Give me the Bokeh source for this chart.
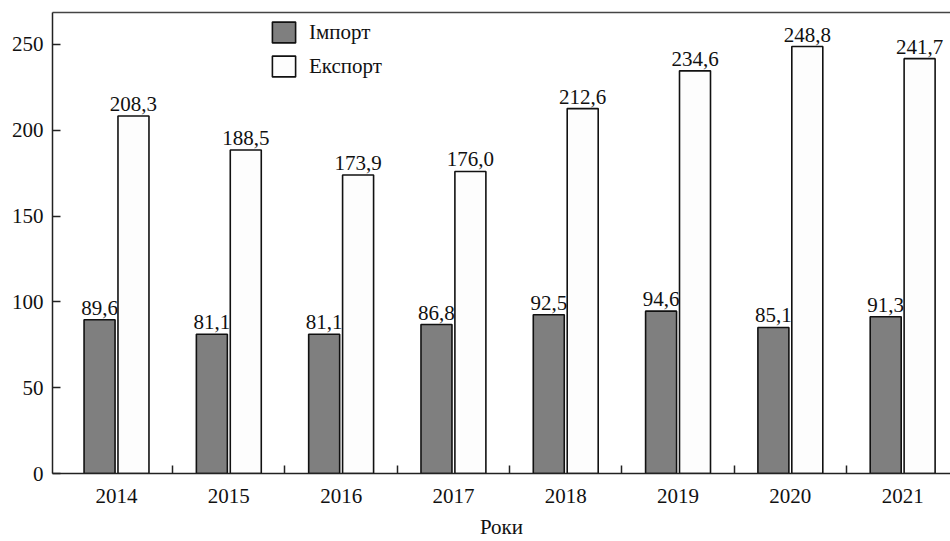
import numpy as np
from bokeh.plotting import figure
from bokeh.models import (ColumnDataSource, FixedTicker, LinearAxis, Legend,
                          LegendItem, Range1d)
from bokeh.embed import file_html
from bokeh.resources import INLINE
from bokeh.core.properties import value

years = ["2014", "2015", "2016", "2017", "2018", "2019", "2020", "2021"]
imports = [89.6, 81.1, 81.1, 86.8, 92.5, 94.6, 85.1, 91.3]
exports = [208.3, 188.5, 173.9, 176.0, 212.6, 234.6, 248.8, 241.7]
y_ticks = [0, 50, 100, 150, 200, 250]
series_names = ["Імпорт", "Експорт"]
x_title = "Роки"

FONT = "Liberation Serif"
FS = "21px"

Y_MAX = 268.6
FRAME_H = 462  # px
label_gap = 12 * Y_MAX / FRAME_H  # gap in data units

idx = np.arange(len(years))
off = 0.151
bw = 0.276

def fmt(v):
    return f"{v:.1f}".replace(".", ",")

src_imp = ColumnDataSource(dict(x=idx - off, top=imports,
                                ly=np.array(imports) + label_gap,
                                lab=[fmt(v) for v in imports]))
src_exp = ColumnDataSource(dict(x=idx + off, top=exports,
                                ly=np.array(exports) + label_gap,
                                lab=[fmt(v) for v in exports]))

p = figure(width=950, height=541, output_backend="svg", toolbar_location=None,
           x_range=Range1d(-0.570, 7.426), y_range=Range1d(0, Y_MAX),
           min_border_left=52, min_border_right=0, min_border_top=12, min_border_bottom=67)
p.outline_line_color = None
p.grid.grid_line_color = None
p.background_fill_color = "white"
p.border_fill_color = "white"

r_imp = p.vbar(x="x", top="top", width=bw, source=src_imp, fill_color="#7f7f7f",
               line_color="#111111", line_width=1.6)
r_exp = p.vbar(x="x", top="top", width=bw, source=src_exp, fill_color="#fdfdfd",
               line_color="#111111", line_width=1.6)

for src in (src_imp, src_exp):
    p.text(x="x", y="ly", text="lab", source=src, text_align="center",
           text_baseline="alphabetic", text_font=value(FONT),
           text_font_size=FS, text_color="#111111")

# x axis
xa = p.xaxis[0]
xa.ticker = FixedTicker(ticks=list(idx), minor_ticks=list(idx[:-1] + 0.5) + [len(years) - 0.5])
xa.major_label_overrides = {int(i): y for i, y in zip(idx, years)}
xa.major_tick_in = 0
xa.major_tick_out = 0
xa.minor_tick_in = 8
xa.minor_tick_out = 0
xa.minor_tick_line_width = 1.5
xa.minor_tick_line_color = "#222222"
xa.axis_line_width = 1.5
xa.axis_line_color = "#222222"
xa.major_label_text_font = FONT
xa.major_label_text_font_size = FS
xa.major_label_text_color = "#111111"
xa.major_label_standoff = 15
xa.axis_label = x_title
xa.axis_label_text_font = FONT
xa.axis_label_text_font_size = FS
xa.axis_label_text_font_style = "normal"
xa.axis_label_text_color = "#111111"
xa.axis_label_standoff = 9

# y axis
ya = p.yaxis[0]
ya.ticker = FixedTicker(ticks=y_ticks)
ya.major_tick_in = 8
ya.major_tick_out = 0
ya.major_tick_line_width = 1.5
ya.major_tick_line_color = "#222222"
ya.minor_tick_line_color = None
ya.axis_line_width = 1.5
ya.axis_line_color = "#222222"
ya.major_label_text_font = FONT
ya.major_label_text_font_size = FS
ya.major_label_text_color = "#111111"
ya.major_label_standoff = 9

# top border line
top = LinearAxis(ticker=FixedTicker(ticks=[]), major_label_text_font_size="0px",
                 major_tick_out=0, major_tick_in=0, minor_tick_out=0, minor_tick_in=0,
                 major_label_standoff=0, axis_line_width=1.5, axis_line_color="#444444")
p.add_layout(top, "above")

legend = Legend(items=[LegendItem(label=series_names[0], renderers=[r_imp]),
                       LegendItem(label=series_names[1], renderers=[r_exp])],
                location=(217, 394), padding=0, margin=0, spacing=8,
                glyph_width=29, glyph_height=26, label_height=21, label_standoff=11,
                label_text_font=FONT, label_text_font_size=FS, label_text_color="#111111",
                border_line_color=None, background_fill_alpha=0)
p.add_layout(legend)

open("out.html", "w").write(file_html(p, INLINE))
